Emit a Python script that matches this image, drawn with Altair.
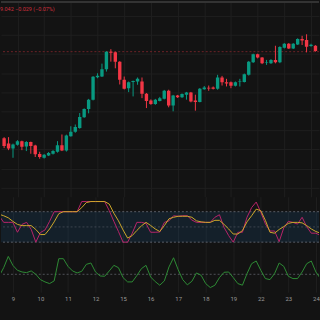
import altair as alt
import pandas as pd

# ---------------- data ----------------
idx = list(range(-1, 70))
opens = [40.719, 40.664, 40.612, 40.650, 40.688, 40.633, 40.678, 40.643, 40.553, 40.514, 40.539, 40.556, 40.577, 40.646, 40.591, 40.740, 40.785, 40.826, 40.938, 41.024, 41.122, 41.357, 41.364, 41.440, 41.624, 41.617, 41.520, 41.330, 41.242, 41.307, 41.312, 41.312, 41.184, 41.114, 41.076, 41.109, 41.132, 41.215, 41.062, 41.166, 41.146, 41.174, 41.198, 41.114, 41.097, 41.232, 41.246, 41.250, 41.236, 41.354, 41.305, 41.305, 41.267, 41.309, 41.307, 41.382, 41.513, 41.596, 41.562, 41.510, 41.502, 41.538, 41.513, 41.666, 41.707, 41.658, 41.700, 41.756, 41.746, 41.683, 41.686]
highs = [40.730, 40.730, 40.662, 40.698, 40.693, 40.688, 40.683, 40.650, 40.577, 40.553, 40.574, 40.594, 40.688, 40.758, 40.756, 40.844, 40.862, 40.982, 41.031, 41.130, 41.369, 41.398, 41.499, 41.629, 41.650, 41.624, 41.525, 41.364, 41.312, 41.322, 41.354, 41.354, 41.192, 41.125, 41.130, 41.151, 41.224, 41.226, 41.172, 41.172, 41.187, 41.203, 41.203, 41.174, 41.244, 41.265, 41.270, 41.260, 41.382, 41.371, 41.340, 41.312, 41.312, 41.340, 41.395, 41.527, 41.603, 41.603, 41.567, 41.538, 41.546, 41.686, 41.681, 41.714, 41.714, 41.714, 41.764, 41.790, 41.806, 41.707, 41.692]
lows = [40.615, 40.594, 40.514, 40.641, 40.594, 40.584, 40.556, 40.522, 40.504, 40.506, 40.532, 40.548, 40.568, 40.584, 40.579, 40.735, 40.776, 40.818, 40.932, 40.979, 41.114, 41.346, 41.359, 41.416, 41.520, 41.450, 41.281, 41.229, 41.201, 41.156, 41.278, 41.138, 41.034, 41.068, 41.068, 41.104, 41.125, 41.042, 41.000, 41.140, 41.140, 41.122, 41.094, 41.007, 41.094, 41.226, 41.215, 41.229, 41.226, 41.270, 41.260, 41.242, 41.260, 41.260, 41.302, 41.374, 41.506, 41.554, 41.494, 41.486, 41.496, 41.502, 41.504, 41.658, 41.652, 41.652, 41.694, 41.694, 41.617, 41.676, 41.624]
closes = [40.636, 40.612, 40.654, 40.688, 40.629, 40.678, 40.636, 40.550, 40.522, 40.546, 40.563, 40.584, 40.646, 40.591, 40.747, 40.785, 40.837, 40.941, 41.024, 41.122, 41.361, 41.371, 41.440, 41.624, 41.612, 41.520, 41.330, 41.236, 41.305, 41.317, 41.340, 41.184, 41.109, 41.076, 41.122, 41.138, 41.215, 41.062, 41.166, 41.146, 41.180, 41.198, 41.104, 41.097, 41.236, 41.250, 41.239, 41.236, 41.354, 41.305, 41.291, 41.267, 41.305, 41.315, 41.388, 41.520, 41.596, 41.562, 41.502, 41.515, 41.538, 41.513, 41.673, 41.707, 41.658, 41.707, 41.756, 41.742, 41.676, 41.697, 41.631]

stoch_k = [72, 59, 59, 59, 39.5, 55, 59, 45, 20, 39, 44, 61, 80, 80, 80, 80, 80, 80, 100, 100, 100, 100, 100, 100, 82, 61, 41, 20, 20, 37.5, 59, 59, 57, 39.5, 39.5, 40, 59, 62, 72, 71, 72, 72, 63.5, 59, 59, 59, 59, 69, 74, 49, 33, 20, 39.5, 39.5, 69, 88, 99, 79, 56, 42, 42, 21, 48, 61, 59, 55.6, 69, 50.6, 37.7, 37.7, 33]
stoch_d = [75, 72, 68, 61, 55, 52.6, 52.6, 52.6, 45, 35, 35, 46, 60, 76, 80, 80, 80, 80, 88, 98, 100, 100, 100, 100, 95, 77, 62, 44, 28, 33, 43, 52, 59, 53, 46, 41, 52.6, 66, 69, 71, 71, 71, 69, 62, 60, 59, 59, 63, 63, 55, 46, 36, 36, 42.8, 60, 72, 85, 82, 63, 39.5, 37.7, 45, 50.6, 57, 59, 59, 58, 52.6, 46, 41, 37.7]
osc = [20, 30.8, 45, 33.75, 27.5, 25.4, 24.6, 26.7, 22.5, 15.8, 12.9, 10.8, 14.2, 42.1, 42.1, 32.5, 26.7, 24.2, 26.25, 35, 36.7, 25.4, 20.4, 20, 26.7, 33.75, 30.8, 18.3, 12.9, 12.9, 20.8, 29.6, 33.75, 19.2, 13.3, 8.75, 14.2, 31.7, 43.3, 28.3, 15.8, 9.2, 13.75, 24.2, 21.25, 10.8, 5.8, 8.75, 18.3, 25, 25.4, 18.3, 10.8, 8.75, 23.3, 35.8, 39.2, 27.5, 17.1, 15.8, 23.3, 36.7, 32.5, 20, 17.1, 17.1, 25.4, 35.8, 39.2, 25.4, 17.1]

day_pos = [2, 8, 14, 20, 26, 32, 38, 44, 50, 56, 62, 68]
day_labels = ["9", "10", "11", "12", "15", "16", "17", "18", "19", "22", "23", "24"]
price_grid = [40.2, 40.4, 40.6, 40.8, 41.0, 41.2, 41.4, 41.6, 41.8, 42.0]
last_price = [41.624]
band_levels = [80, 20]
mid_level = [50]
osc_level = [22.5]
header_text = "9.042  \u22120.029 (\u22120.07%)"

# ---------------- styling ----------------
BG = "#131313"
GRID = "#1f1f1f"
UP = "#089981"
DOWN = "#f23645"
W = 320

df = pd.DataFrame({"i": idx, "o": opens, "h": highs, "l": lows, "c": closes,
                   "k": stoch_k, "d": stoch_d, "v": osc})
df["dir"] = ["up" if c >= o else "down" for o, c in zip(opens, closes)]

xscale = alt.Scale(domain=[-0.584, 68.68], nice=False, zero=False)
label_expr = ("[" + ",".join("'%s'" % s for s in day_labels) + "][indexof(["
              + ",".join(str(p) for p in day_pos) + "], datum.value)]")
x_hidden = alt.Axis(values=day_pos, labels=False, ticks=False, domain=False,
                    grid=True, gridColor=GRID, gridWidth=1, title=None)
x_shown = alt.Axis(values=day_pos, labelExpr=label_expr, ticks=False, domain=False,
                   grid=True, gridColor=GRID, gridWidth=1, title=None,
                   labelColor="#9a9a9a", labelFontSize=6, labelPadding=3,
                   labelOverlap=False, labelFont="Roboto")
color_scale = alt.Scale(domain=["up", "down"], range=[UP, DOWN])

# ---------------- main price panel ----------------
yscale = alt.Scale(domain=[40.106, 42.144], nice=False, zero=False)
y_axis = alt.Axis(values=price_grid, labels=False, ticks=False, domain=False,
                  grid=True, gridColor=GRID, gridWidth=1, title=None)

base = alt.Chart(df)
wicks = base.mark_rule(strokeWidth=1, clip=True).encode(
    x=alt.X("i:Q", scale=xscale, axis=x_hidden),
    y=alt.Y("l:Q", scale=yscale, axis=y_axis),
    y2="h:Q",
    color=alt.Color("dir:N", scale=color_scale, legend=None),
)
bodies = base.mark_bar(size=3.4, clip=True).encode(
    x=alt.X("i:Q", scale=xscale, axis=x_hidden),
    y=alt.Y("o:Q", scale=yscale, axis=y_axis),
    y2="c:Q",
    color=alt.Color("dir:N", scale=color_scale, legend=None),
)
price_line = alt.Chart(pd.DataFrame({"p": last_price})).mark_rule(
    color="#6e2227", strokeDash=[2, 2], strokeWidth=1
).encode(y=alt.Y("p:Q", scale=yscale, axis=y_axis))
top_border = alt.Chart(pd.DataFrame({"a": [0]})).mark_rule(
    color="#333333", strokeWidth=2
).encode(x=alt.value(0), x2=alt.value(W), y=alt.value(0))
header = alt.Chart(pd.DataFrame({"t": [header_text]})).mark_text(
    align="left", baseline="middle", fontSize=5.5, font="Roboto", color="#cf2f3d"
).encode(x=alt.value(-1), y=alt.value(7), text="t:N")

main = alt.layer(price_line, wicks, bodies, top_border, header).properties(
    width=W, height=196)

# ---------------- stochastic RSI panel ----------------
sscale = alt.Scale(domain=[-0.2, 109.4], nice=False, zero=False)
band = alt.Chart(pd.DataFrame({"top": [band_levels[0]], "bot": [band_levels[1]]})).mark_rect(
    color="#2196f3", opacity=0.1
).encode(
    x=alt.value(0), x2=alt.value(W),
    y=alt.Y("top:Q", scale=sscale, axis=None), y2="bot:Q",
)
band_lines = alt.Chart(pd.DataFrame({"b": band_levels})).mark_rule(
    color="#787b86", strokeDash=[2, 2], strokeWidth=1, opacity=0.7
).encode(y=alt.Y("b:Q", scale=sscale, axis=None))
mid_line = alt.Chart(pd.DataFrame({"b": mid_level})).mark_rule(
    color="#787b86", strokeDash=[2, 2], strokeWidth=1, opacity=0.4
).encode(y=alt.Y("b:Q", scale=sscale, axis=None))
k_line = base.mark_line(color="#b8246a", strokeWidth=1, clip=True).encode(
    x=alt.X("i:Q", scale=xscale, axis=x_hidden),
    y=alt.Y("k:Q", scale=sscale, axis=None),
)
d_line = base.mark_line(color="#cfa72a", strokeWidth=1, clip=True).encode(
    x=alt.X("i:Q", scale=xscale, axis=x_hidden),
    y=alt.Y("d:Q", scale=sscale, axis=None),
)
stoch = alt.layer(band, band_lines, mid_line, k_line, d_line).properties(
    width=W, height=56)

# ---------------- oscillator panel ----------------
oscale = alt.Scale(domain=[0, 50], nice=False, zero=False)
osc_rule = alt.Chart(pd.DataFrame({"b": osc_level})).mark_rule(
    color="#787b86", strokeDash=[2, 2], strokeWidth=1, opacity=0.6
).encode(y=alt.Y("b:Q", scale=oscale, axis=None))
osc_line = base.mark_line(color="#2e8b35", strokeWidth=1, clip=True).encode(
    x=alt.X("i:Q", scale=xscale, axis=x_shown),
    y=alt.Y("v:Q", scale=oscale, axis=None),
)
oscp = alt.layer(osc_rule, osc_line).properties(width=W, height=40)

chart = alt.vconcat(main, stoch, oscp, spacing=0).properties(
    background=BG,
    padding={"left": 0, "top": 0, "right": 0, "bottom": 18},
).configure_view(stroke=None)

chart.save("out.html", embed_options={"renderer": "svg", "actions": False})
